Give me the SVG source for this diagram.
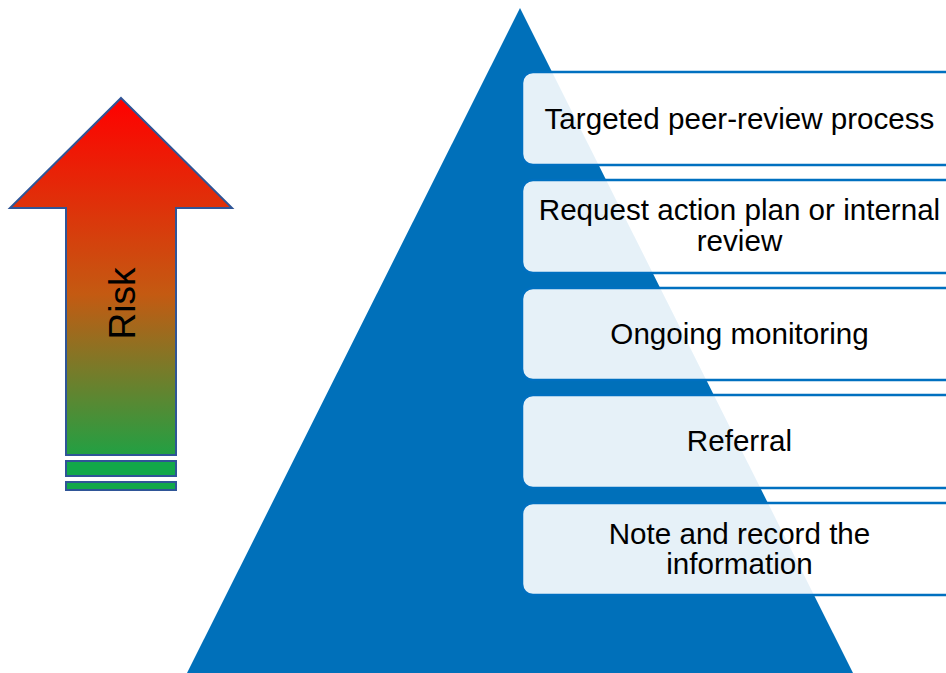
<svg xmlns="http://www.w3.org/2000/svg" width="946" height="673" viewBox="0 0 946 673">
<defs>
<linearGradient id="riskGrad" x1="0" y1="98" x2="0" y2="455" gradientUnits="userSpaceOnUse">
<stop offset="0" stop-color="#FF0000"/>
<stop offset="0.55" stop-color="#C45A12"/>
<stop offset="1" stop-color="#22A043"/>
</linearGradient>
<style>
.box{fill:#FFFFFF;fill-opacity:0.9;stroke:#0070C0;stroke-width:2.5}
.lbl{font-family:"Liberation Sans",Arial,sans-serif;font-size:29.6px;fill:#000;text-anchor:middle}
.bar{fill:#12A84A;stroke:#2F5597;stroke-width:2}
</style>
</defs>
<rect width="946" height="673" fill="#FFFFFF"/>
<g id="pyramid">
<polygon points="520,8 853,673 187,673" fill="#0070BA"/>
</g>
<g id="risk-arrow">
<polygon points="121,98 232,208 176,208 176,455 66,455 66,208 10,208" fill="url(#riskGrad)" stroke="#2F5597" stroke-width="2" stroke-linejoin="miter"/>
<rect class="bar" x="66" y="461" width="110" height="15"/>
<rect class="bar" x="66" y="482" width="110" height="8"/>
<text x="135" y="303.5" transform="rotate(-90 135 303.5)" font-family="'Liberation Sans',Arial,sans-serif" font-size="37" text-anchor="middle" fill="#000">Risk</text>
</g>
<g id="level5">
<rect class="box" x="522" y="72" width="440" height="93" rx="11"/>
<text class="lbl" x="739.5" y="128.5">Targeted peer-review process</text>
</g>
<g id="level4">
<rect class="box" x="522" y="180" width="440" height="93" rx="11"/>
<text class="lbl" x="739.5" y="219.5">Request action plan or internal</text>
<text class="lbl" x="739.5" y="250.5">review</text>
</g>
<g id="level3">
<rect class="box" x="522" y="288" width="440" height="92" rx="11"/>
<text class="lbl" x="739.5" y="343.5">Ongoing monitoring</text>
</g>
<g id="level2">
<rect class="box" x="522" y="395" width="440" height="93" rx="11"/>
<text class="lbl" x="739.5" y="451">Referral</text>
</g>
<g id="level1">
<rect class="box" x="522" y="503" width="440" height="92" rx="11"/>
<text class="lbl" x="739.5" y="543.5">Note and record the</text>
<text class="lbl" x="739.5" y="573.5">information</text>
</g>
<g id="connectors"/>
</svg>
